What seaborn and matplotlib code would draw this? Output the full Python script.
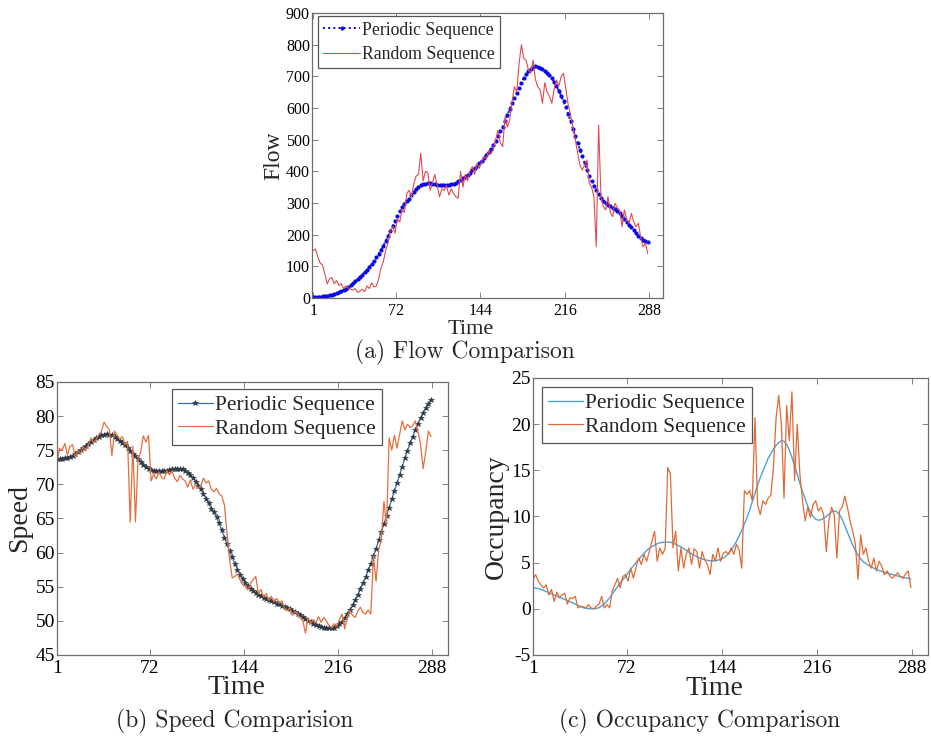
import numpy as np
import pandas as pd
import matplotlib
matplotlib.use("Agg")
import matplotlib.pyplot as plt
import seaborn as sns

# ---------------- data (sampled every 2 time steps: t = 1, 3, ..., 287) ----------------
time_ticks = [1, 72, 144, 216, 288]
series_names = ["Periodic Sequence", "Random Sequence"]

flow_periodic = [
    3, 3, 4, 4, 5, 6, 7, 9, 11, 13,
    15, 18, 21, 25, 29, 34, 40, 46, 53, 60,
    67, 74, 81, 89, 98, 107, 117, 128, 139, 151,
    165, 180, 195, 211, 227, 243, 259, 274, 286, 297,
    306, 314, 324, 334, 343, 351, 356, 359, 361, 362,
    362, 361, 360, 358, 357, 356, 356, 356, 357, 359,
    361, 364, 368, 373, 378, 383, 389, 396, 403, 410,
    418, 425, 433, 442, 451, 462, 472, 484, 497, 512,
    527, 541, 559, 577, 596, 615, 632, 648, 664, 680,
    695, 706, 716, 723, 728, 731, 730, 727, 723, 718,
    712, 704, 694, 682, 668, 654, 638, 621, 604, 581,
    558, 535, 511, 489, 468, 447, 426, 405, 385, 368,
    353, 341, 328, 317, 307, 299, 293, 289, 285, 280,
    274, 267, 259, 250, 241, 232, 223, 214, 204, 196,
    189, 184, 180, 178,
]
flow_random = [
    150, 155, 130, 110, 105, 75, 45, 60, 65, 45,
    55, 40, 45, 30, 38, 32, 28, 25, 30, 18,
    22, 28, 20, 38, 30, 48, 35, 38, 60, 95,
    115, 150, 175, 210, 225, 205, 250, 240, 280, 270,
    330, 340, 320, 360, 385, 390, 457, 370, 400, 395,
    340, 365, 390, 355, 320, 345, 340, 355, 325, 345,
    330, 320, 315, 400, 350, 390, 370, 400, 415, 390,
    425, 410, 430, 446, 440, 465, 455, 470, 500, 530,
    490, 478, 573, 540, 562, 620, 667, 650, 740, 800,
    757, 751, 720, 710, 751, 690, 667, 657, 615, 680,
    650, 636, 615, 660, 688, 670, 699, 710, 660, 610,
    580, 541, 500, 460, 420, 404, 420, 436, 362, 350,
    320, 162, 546, 320, 290, 278, 320, 270, 257, 299,
    285, 278, 225, 278, 250, 236, 267, 240, 225, 236,
    190, 162, 173, 140,
]

speed_periodic = [
    73.7, 73.7, 73.7, 73.8, 73.8, 74.0, 74.2, 74.4, 74.7, 75.0,
    75.3, 75.6, 75.9, 76.2, 76.5, 76.8, 77.0, 77.2, 77.3, 77.4,
    77.3, 77.2, 77.0, 76.7, 76.4, 76.0, 75.7, 75.3, 74.9, 74.5,
    74.1, 73.7, 73.3, 72.9, 72.6, 72.3, 72.1, 72.0, 71.9, 71.9,
    71.9, 71.9, 72.0, 72.1, 72.2, 72.3, 72.3, 72.3, 72.2, 72.0,
    71.7, 71.3, 70.9, 70.4, 69.8, 69.3, 68.6, 67.9, 67.2, 66.4,
    65.9, 65.2, 64.3, 63.3, 62.2, 61.2, 60.2, 59.3, 58.4, 57.5,
    56.7, 56.1, 55.6, 55.1, 54.7, 54.4, 54.1, 53.8, 53.6, 53.4,
    53.2, 53.0, 52.9, 52.7, 52.5, 52.4, 52.2, 52.1, 51.9, 51.7,
    51.5, 51.3, 51.0, 50.8, 50.5, 50.3, 50.0, 49.8, 49.6, 49.4,
    49.2, 49.1, 49.0, 48.9, 48.9, 48.9, 49.0, 49.2, 49.5, 49.9,
    50.4, 51.0, 51.6, 52.3, 53.0, 53.8, 54.6, 55.5, 56.4, 57.4,
    58.4, 59.5, 60.6, 61.8, 63.0, 64.2, 65.4, 66.6, 67.8, 69.0,
    70.2, 71.4, 72.6, 73.8, 74.9, 76.0, 77.0, 78.0, 78.9, 79.7,
    80.5, 81.2, 81.8, 82.4,
]
speed_random = [
    73.2, 75.3, 75.0, 76.0, 74.3, 75.6, 75.8, 73.9, 75.0, 74.5,
    75.5, 74.9, 75.8, 76.8, 76.1, 76.6, 77.3, 77.8, 79.1, 78.5,
    78.0, 74.2, 77.8, 77.2, 76.6, 77.0, 75.8, 76.3, 64.5, 75.6,
    64.5, 73.5, 74.8, 77.1, 76.2, 77.2, 70.5, 71.5, 70.8, 71.8,
    71.0, 70.8, 72.0, 71.4, 71.9, 70.9, 70.4, 71.3, 70.8, 70.5,
    69.6, 70.6, 69.3, 69.9, 69.4, 69.8, 70.9, 70.2, 70.5, 69.3,
    68.9, 69.4, 68.6, 68.3, 67.0, 62.9, 59.0, 56.3, 56.5, 56.9,
    56.0, 55.3, 55.0, 54.5, 55.5, 56.0, 56.5, 54.0, 54.6, 53.5,
    54.0, 53.0, 53.6, 52.8, 53.3, 52.6, 52.9, 51.9, 51.5, 51.9,
    50.8, 51.4, 51.0, 50.4, 50.0, 48.2, 50.5, 49.6, 50.2, 49.7,
    50.6, 49.8, 50.5, 50.0, 49.3, 49.0, 49.6, 49.2, 50.2, 51.0,
    48.8, 50.6, 51.5, 50.8, 50.5, 51.4, 52.0, 51.2, 51.0, 51.6,
    51.0, 59.5, 55.8, 60.4, 61.9, 67.5, 64.0, 76.8, 75.0, 77.2,
    75.3, 77.3, 79.3, 78.0, 78.8, 78.3, 78.6, 79.3, 77.8, 75.8,
    72.3, 74.8, 77.8, 77.0,
]

occ_periodic = [
    2.25, 2.24, 2.2, 2.12, 2.0, 1.88, 1.75, 1.62, 1.5, 1.38,
    1.27, 1.15, 1.03, 0.9, 0.78, 0.64, 0.5, 0.36, 0.23, 0.12,
    0.05, 0.01, 0.0, 0.0, 0.04, 0.12, 0.3, 0.55, 0.85, 1.2,
    1.6, 2.0, 2.4, 2.8, 3.15, 3.5, 3.9, 4.3, 4.65, 5.0,
    5.35, 5.7, 6.0, 6.3, 6.55, 6.75, 6.9, 7.05, 7.15, 7.2,
    7.22, 7.22, 7.2, 7.12, 7.0, 6.85, 6.7, 6.52, 6.33, 6.12,
    5.95, 5.8, 5.65, 5.5, 5.4, 5.32, 5.25, 5.2, 5.2, 5.22,
    5.27, 5.35, 5.5, 5.7, 6.0, 6.35, 6.8, 7.3, 7.9, 8.5,
    9.2, 9.9, 10.7, 11.6, 12.5, 13.4, 14.2, 14.9, 15.6, 16.3,
    16.8, 17.3, 17.7, 18.0, 18.2, 18.15, 17.8, 17.2, 16.4, 15.5,
    14.6, 13.6, 12.7, 11.9, 11.1, 10.5, 10.0, 9.7, 9.6, 9.65,
    9.8, 10.0, 10.25, 10.5, 10.6, 10.5, 10.2, 9.7, 9.0, 8.3,
    7.6, 6.9, 6.3, 5.8, 5.4, 5.1, 4.9, 4.7, 4.55, 4.4,
    4.25, 4.15, 4.05, 3.95, 3.85, 3.8, 3.7, 3.65, 3.55, 3.5,
    3.4, 3.35, 3.3, 3.25,
]
occ_random = [
    3.2, 3.7, 3.0, 2.6, 2.25, 2.6, 1.5, 2.1, 0.8, 1.8,
    1.2, 1.5, 1.7, 0.5, 1.2, 1.1, 1.35, 0.1, 0.3, 0.2,
    0.1, 0.45, 0.1, 0.0, 0.3, 0.5, 1.35, 0.1, 0.45, 0.1,
    1.9, 2.6, 3.3, 2.25, 3.5, 3.7, 3.0, 4.4, 3.3, 4.5,
    5.5, 4.8, 5.9, 5.15, 6.2, 7.3, 8.4, 5.15, 6.6, 5.9,
    6.5, 15.3, 14.6, 6.6, 8.4, 4.1, 6.6, 4.4, 5.9, 6.6,
    4.8, 6.5, 6.2, 4.4, 6.2, 5.3, 4.8, 3.7, 5.9, 5.15,
    6.6, 5.15, 6.0, 6.2, 5.9, 6.6, 5.9, 7.0, 6.4, 4.4,
    12.8, 12.4, 12.8, 11.7, 20.7, 11.3, 10.2, 11.7, 11.3, 12.0,
    12.3, 15.3, 20.7, 23.1, 20.0, 12.0, 22.0, 18.2, 23.5, 13.9,
    20.0, 14.6, 11.7, 9.5, 11.0, 9.9, 11.3, 11.7, 10.6, 11.0,
    10.2, 6.2, 9.6, 11.0, 10.2, 5.5, 10.6, 11.0, 12.2, 11.0,
    9.5, 8.4, 7.0, 3.2, 8.0, 5.9, 6.6, 5.2, 4.4, 5.5,
    4.1, 5.15, 4.6, 3.7, 4.1, 3.6, 3.3, 3.6, 3.9, 3.5,
    3.3, 3.8, 4.1, 2.3,
]


def frame(values):
    t = 1 + 2 * np.arange(len(values))
    return pd.DataFrame({"Time": t, "Value": values})


# ---------------- style ----------------
sns.set_theme(style="ticks")
plt.rcParams["font.family"] = ["Liberation Serif", "DejaVu Serif"]
plt.rcParams["axes.unicode_minus"] = False

fig = plt.figure(figsize=(9.31, 7.41), dpi=100)
ax_a = fig.add_axes([0.3351, 0.5978, 0.3770, 0.3847])
ax_b = fig.add_axes([0.0612, 0.1161, 0.4200, 0.3684])
ax_c = fig.add_axes([0.5725, 0.1161, 0.4243, 0.3738])

SPINE = "#6e6e6e"


def style_axes(ax, xlim, ylim, yticks, tick_fs, ylabel, ylab_fs, xlab_fs, ylabpad, xlab_xy):
    ax.set_xlim(*xlim)
    ax.set_ylim(*ylim)
    ax.set_xticks(time_ticks)
    ax.set_xticklabels([str(v) for v in time_ticks])
    ax.set_yticks(yticks)
    ax.set_yticklabels([str(v) for v in yticks])
    ax.tick_params(direction="in", top=True, right=True, length=4, width=0.6,
                   color=SPINE, labelcolor="black", labelsize=tick_fs, pad=1.5)
    ax.tick_params(axis="x", pad=3.5)
    for s in ax.spines.values():
        s.set_color(SPINE)
        s.set_linewidth(0.9)
    ax.set_xlabel("Time", fontsize=xlab_fs)
    ax.xaxis.set_label_coords(*xlab_xy)
    ax.set_ylabel(ylabel, fontsize=ylab_fs, labelpad=ylabpad)


def style_legend(ax, fs, loc, anchor, handlelength, spacing):
    leg = ax.legend(loc=loc, bbox_to_anchor=anchor, fontsize=fs, frameon=True,
                    fancybox=False, framealpha=1, edgecolor="#555555",
                    borderaxespad=0, handlelength=handlelength, handletextpad=0.1,
                    labelspacing=spacing, borderpad=0.3)
    leg.get_frame().set_linewidth(0.9)
    return leg


# (a) Flow
sns.lineplot(data=frame(flow_periodic), x="Time", y="Value", ax=ax_a, color="#0a0ae6",
             linestyle=":", linewidth=1.4, marker="o", markersize=3.0,
             markeredgewidth=0, label=series_names[0], estimator=None, sort=False)
sns.lineplot(data=frame(flow_random), x="Time", y="Value", ax=ax_a, color="#e04a4f",
             linewidth=0.8, label=series_names[1], estimator=None, sort=False)
style_axes(ax_a, (0, 300), (0, 900), list(range(0, 901, 100)), 11.5, "Flow", 17, 16, 1,
           (0.452, -0.076))
style_legend(ax_a, 12.8, "upper left", (0.016, 0.988), 2.1, 0.4)

# (b) Speed
sns.lineplot(data=frame(speed_periodic), x="Time", y="Value", ax=ax_b, color="#3a6fb5",
             linewidth=0.9, marker="*", markersize=3.8, markerfacecolor="#2d3945",
             markeredgecolor="#2d3945", markeredgewidth=0.4,
             label=series_names[0], estimator=None, sort=False)
sns.lineplot(data=frame(speed_random), x="Time", y="Value", ax=ax_b, color="#e07040",
             linewidth=0.9, label=series_names[1], estimator=None, sort=False)
style_axes(ax_b, (1, 300), (45, 85), list(range(45, 86, 5)), 14, "Speed", 20, 20, 2,
           (0.458, -0.074))
style_legend(ax_b, 15.5, "upper right", (0.831, 0.975), 1.6, 0.15)

# (c) Occupancy
sns.lineplot(data=frame(occ_periodic), x="Time", y="Value", ax=ax_c, color="#4aa3d8",
             linewidth=1.0, label=series_names[0], estimator=None, sort=False)
sns.lineplot(data=frame(occ_random), x="Time", y="Value", ax=ax_c, color="#e06a35",
             linewidth=0.9, label=series_names[1], estimator=None, sort=False)
style_axes(ax_c, (1, 300), (-5, 25), list(range(-5, 26, 5)), 14, "Occupancy", 20, 20, 2,
           (0.46, -0.075))
style_legend(ax_c, 15.5, "upper left", (0.022, 0.968), 1.6, 0.15)

# captions
fig.text(0.4995, 0.525, "(a) Flow Comparison", ha="center", va="center",
         fontfamily="cmr10", fontsize=17)
fig.text(0.2524, 0.026, "(b) Speed Comparision", ha="center", va="center",
         fontfamily="cmr10", fontsize=17)
fig.text(0.7519, 0.026, "(c) Occupancy Comparison", ha="center", va="center",
         fontfamily="cmr10", fontsize=17)

fig.savefig("out.png", dpi=100)
